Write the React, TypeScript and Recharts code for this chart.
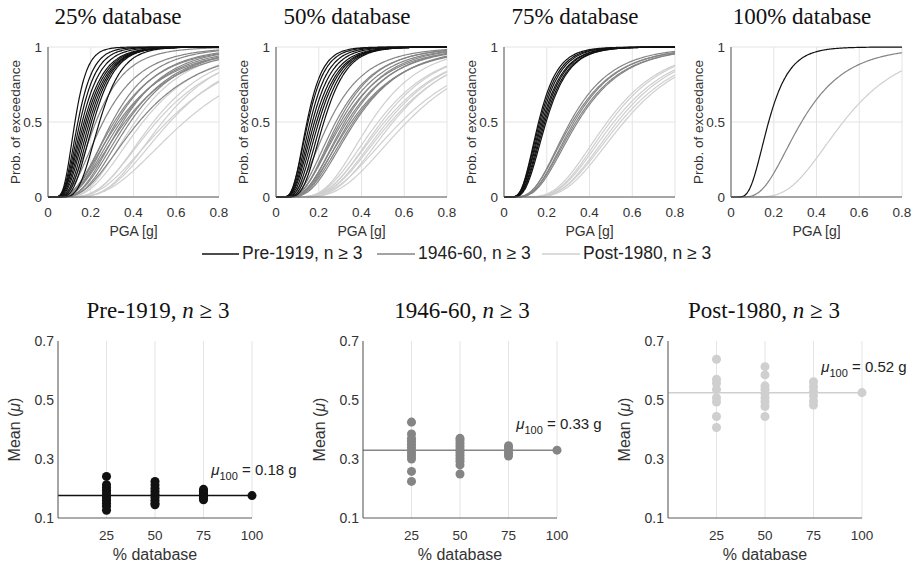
import React from "react";
import {
  LineChart, Line, ScatterChart, Scatter, XAxis, YAxis, CartesianGrid, ReferenceLine,
} from "recharts";

const SANS = '"Liberation Sans", Arial, sans-serif';
const SERIF = '"Liberation Serif", "Times New Roman", serif';

const classNames = ["Pre-1919", "1946-60", "Post-1980"];
const classColors = ["#111111", "#858585", "#cfcfcf"];
const subsetTitles = ["25% database", "50% database", "75% database", "100% database"];
const subsetPct = [25, 50, 75, 100];

// mean (mu, g) of each sub-sample fit, bottom panels; also the median of each curve on top
const preMu25 = [0.241, 0.213, 0.203, 0.194, 0.185, 0.177, 0.169, 0.16, 0.15, 0.14, 0.126];
const preMu50 = [0.224, 0.212, 0.2, 0.19, 0.18, 0.17, 0.16, 0.15, 0.145];
const preMu75 = [0.197, 0.191, 0.185, 0.179, 0.173, 0.167, 0.162];
const preMu100 = [0.176];
const midMu25 = [0.425, 0.385, 0.37, 0.36, 0.35, 0.34, 0.33, 0.32, 0.31, 0.3, 0.258, 0.224];
const midMu50 = [0.37, 0.362, 0.352, 0.342, 0.332, 0.322, 0.312, 0.302, 0.292, 0.28, 0.249];
const midMu75 = [0.345, 0.337, 0.328, 0.319, 0.31];
const midMu100 = [0.33];
const postMu25 = [0.638, 0.57, 0.557, 0.536, 0.508, 0.493, 0.444, 0.407];
const postMu50 = [0.613, 0.585, 0.548, 0.536, 0.522, 0.508, 0.494, 0.478, 0.444];
const postMu75 = [0.562, 0.545, 0.53, 0.514, 0.497, 0.483];
const postMu100 = [0.525];
const muLabels = ["0.18", "0.33", "0.52"];

const preBeta25 = [0.35, 0.38, 0.4, 0.42, 0.44, 0.45, 0.46, 0.44, 0.42, 0.4, 0.36];
const preBeta50 = [0.38, 0.4, 0.42, 0.44, 0.45, 0.44, 0.43, 0.42, 0.4];
const preBeta75 = [0.43, 0.44, 0.44, 0.45, 0.44, 0.44, 0.43];
const preBeta100 = [0.44];
const midBeta25 = [0.55, 0.5, 0.52, 0.58, 0.5, 0.55, 0.6, 0.52, 0.56, 0.5, 0.55, 0.5];
const midBeta50 = [0.5, 0.52, 0.55, 0.5, 0.53, 0.5, 0.55, 0.52, 0.5, 0.53, 0.55];
const midBeta75 = [0.5, 0.51, 0.5, 0.52, 0.5];
const midBeta100 = [0.5];
const postBeta25 = [0.5, 0.45, 0.5, 0.42, 0.48, 0.45, 0.5, 0.48];
const postBeta50 = [0.45, 0.48, 0.42, 0.45, 0.44, 0.46, 0.43, 0.45, 0.42];
const postBeta75 = [0.42, 0.43, 0.42, 0.43, 0.42, 0.43];
const postBeta100 = [0.42];

const means = [
  [preMu25, preMu50, preMu75, preMu100],
  [midMu25, midMu50, midMu75, midMu100],
  [postMu25, postMu50, postMu75, postMu100],
];
const betas = [
  [preBeta25, preBeta50, preBeta75, preBeta100],
  [midBeta25, midBeta50, midBeta75, midBeta100],
  [postBeta25, postBeta50, postBeta75, postBeta100],
];

// normal cdf (Abramowitz & Stegun erf)
function phi(z: number) {
  const x = Math.abs(z) / Math.SQRT2;
  const t = 1 / (1 + 0.3275911 * x);
  const y = 1 - ((((1.061405429 * t - 1.453152027) * t + 1.421413741) * t - 0.284496736) * t + 0.254829592) * t * Math.exp(-x * x);
  return z >= 0 ? 0.5 * (1 + y) : 0.5 * (1 - y);
}
const fragility = (x: number, med: number, beta: number) => (x <= 0 ? 0 : phi(Math.log(x / med) / beta));

const pgaGrid = Array.from({ length: 161 }, (_, i) => i * 0.005);

const topLeft = [48, 276, 504, 731];
const botLeft = [58, 363, 668];
const axisStroke = "#5a5a5a";
const gridStroke = "#e4e4e4";
const tickStyle = { fontSize: 13.5, fill: "#333" };

function FragilityPanel({ idx }: { idx: number }) {
  const rows = pgaGrid.map((x) => {
    const r: Record<string, number> = { x };
    means.forEach((cls, c) => cls[idx].forEach((m, k) => { r[`c${c}_${k}`] = fragility(x, m, betas[c][idx][k]); }));
    return r;
  });
  const order = [2, 1, 0];
  return (
    <div style={{ position: "absolute", left: topLeft[idx] - 45, top: 0 }}>
      <LineChart width={228} height={242} data={rows} margin={{ top: 47, right: 12, bottom: 0, left: 15 }}>
        <CartesianGrid stroke={gridStroke} />
        <XAxis dataKey="x" type="number" domain={[0, 0.8]} ticks={[0, 0.2, 0.4, 0.6, 0.8]} tick={tickStyle}
          tickLine={false} tickMargin={4} axisLine={{ stroke: axisStroke }} height={45}
          label={{ value: "PGA [g]", position: "insideBottom", offset: 6, style: { fontSize: 14, fill: "#333" } }} />
        <YAxis type="number" domain={[0, 1]} ticks={[0, 0.5, 1]} tick={tickStyle} tickLine={false} tickMargin={0}
          axisLine={{ stroke: axisStroke }} width={30}
          label={{ value: "Prob. of exceedance", angle: -90, position: "insideLeft", offset: -3, style: { textAnchor: "middle", fontSize: 13.5, fill: "#333" } }} />
        {order.map((c) => means[c][idx].map((_, k) => (
          <Line key={`c${c}_${k}`} dataKey={`c${c}_${k}`} type="monotone" dot={false} stroke={classColors[c]}
            strokeWidth={1.2} isAnimationActive={false} />
        )))}
      </LineChart>
    </div>
  );
}

function MeanPanel({ idx }: { idx: number }) {
  const pts = means[idx].flatMap((vals, s) => vals.map((v) => ({ x: subsetPct[s], y: v })));
  const mu100 = means[idx][3][0];
  const color = classColors[idx];
  const meanLabel = (p: any) => {
    const vb = p.viewBox;
    const cx = vb.x + 2;
    const cy = vb.y + vb.height / 2;
    return (
      <text x={cx} y={cy} transform={`rotate(-90 ${cx} ${cy})`} textAnchor="middle" fontSize={16} fill="#333">
        Mean (<tspan fontStyle="italic">μ</tspan>)
      </text>
    );
  };
  const muLabel = (p: any) => {
    const vb = p.viewBox;
    return (
      <text x={vb.x + vb.width * 0.79} y={vb.y - 21} fontSize={15} fill="#222">
        <tspan fontStyle="italic">μ</tspan>
        <tspan fontSize={11} dy={5}>100</tspan>
        <tspan dy={-5}> = {muLabels[idx]} g</tspan>
      </text>
    );
  };
  return (
    <div style={{ position: "absolute", left: botLeft[idx] - 55, top: 330 }}>
      <ScatterChart width={301} height={233} margin={{ top: 11, right: 52, bottom: 0, left: 15 }}>
        <CartesianGrid horizontal={false} stroke={gridStroke} />
        <XAxis dataKey="x" type="number" domain={[0, 100]} ticks={[25, 50, 75, 100]} tick={tickStyle}
          tickLine={false} tickMargin={6} axisLine={{ stroke: axisStroke }} height={45}
          label={{ value: "% database", position: "insideBottom", offset: 3, style: { fontSize: 16, fill: "#333" } }} />
        <YAxis dataKey="y" type="number" domain={[0.1, 0.7]} ticks={[0.1, 0.3, 0.5, 0.7]} tick={{ ...tickStyle, fontSize: 14 }}
          tickFormatter={(v) => v.toFixed(1)} tickLine={false} tickSize={4} tickMargin={0}
          axisLine={{ stroke: axisStroke }} width={40} label={{ content: meanLabel }} />
        <ReferenceLine y={mu100} stroke={color} strokeWidth={1.5} label={{ content: muLabel }} />
        <Scatter data={pts} fill={color} isAnimationActive={false} />
      </ScatterChart>
    </div>
  );
}

const topTitleX = [118, 347, 575, 802];
const botTitleX = [158, 462, 764];
const legendItems = [
  { x1: 202, x2: 239, tx: 242 },
  { x1: 377, x2: 415, tx: 418 },
  { x1: 542, x2: 580, tx: 583 },
];

export default function App() {
  return (
    <div style={{ position: "absolute", left: 0, top: 0, width: 917, height: 567, background: "#fff", fontFamily: SANS }}>
      {subsetTitles.map((_, i) => <FragilityPanel key={i} idx={i} />)}
      {classNames.map((_, i) => <MeanPanel key={i} idx={i} />)}
      <svg width={917} height={567} style={{ position: "absolute", left: 0, top: 0, pointerEvents: "none" }}>
        {subsetTitles.map((t, i) => (
          <text key={t} x={topTitleX[i]} y={24} textAnchor="middle" fontFamily={SERIF} fontSize={23} fill="#111">{t}</text>
        ))}
        {classNames.map((t, i) => (
          <text key={t} x={botTitleX[i]} y={318} textAnchor="middle" fontFamily={SERIF} fontSize={23} fill="#111">
            {t}, <tspan fontStyle="italic">n</tspan> ≥ 3
          </text>
        ))}
        {legendItems.map((it, i) => (
          <g key={i}>
            <line x1={it.x1} x2={it.x2} y1={254} y2={254} stroke={classColors[i]} strokeWidth={1.5} />
            <text x={it.tx} y={259} fontFamily={SANS} fontSize={17.5} fill="#222">{classNames[i]}, n ≥ 3</text>
          </g>
        ))}
      </svg>
    </div>
  );
}
